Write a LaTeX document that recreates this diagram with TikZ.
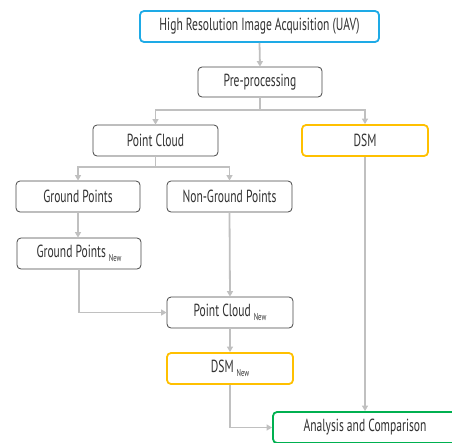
\documentclass[tikz,border=0pt]{standalone}
\usepackage{fontspec}
\setmainfont[FakeStretch=0.66]{PT Sans}
\usetikzlibrary{arrows.meta}
\definecolor{cblue}{RGB}{30,170,230}
\definecolor{corange}{RGB}{255,192,0}
\definecolor{cgreen}{RGB}{0,176,80}
\definecolor{cline}{RGB}{192,192,192}
\definecolor{cbox}{RGB}{70,70,70}
\definecolor{ctext}{RGB}{50,50,50}
\newcommand{\nw}{\,\raisebox{-0.45ex}{\fontsize{10}{10}\selectfont New}}
\tikzset{
  box/.style={draw=cbox, line width=0.8pt, rounded corners=4pt, fill=white, inner sep=0pt, font=\fontsize{17.5}{19}\selectfont, text=ctext},
  conn/.style={draw=cline, line width=1.8pt, -{Triangle[length=5.5pt,width=6pt]}},
  plain/.style={draw=cline, line width=1.8pt}
}
\begin{document}
\begin{tikzpicture}[x=1pt,y=-1pt]
\useasboundingbox (0,0) rectangle (452,442);
\begin{scope}
\clip (0,0) rectangle (452,442);
\node[box, draw=cblue, line width=1.8pt, minimum width=239pt, minimum height=31pt] (uav) at (259.5,26.5) {High Resolution Image Acquisition (UAV)};
\node[box, minimum width=124pt, minimum height=30pt] (pre) at (260,82) {Pre-processing};
\node[box, minimum width=125pt, minimum height=31pt] (pc) at (155.5,140.5) {Point Cloud};
\node[box, draw=corange, line width=1.8pt, minimum width=126pt, minimum height=31pt] (dsm) at (365,140.5) {DSM};
\node[box, minimum width=124pt, minimum height=31pt] (gp) at (78,196.5) {Ground Points};
\node[box, minimum width=125pt, minimum height=31pt] (ngp) at (229.5,196.5) {Non-Ground Points};
\node[box, minimum width=124pt, minimum height=31pt] (gpn) at (79,253.5) {Ground Points\nw};
\node[box, minimum width=126pt, minimum height=31pt] (pcn) at (230,312.5) {Point Cloud\nw};
\node[box, draw=corange, line width=1.8pt, minimum width=126pt, minimum height=31pt] (dsmn) at (230,368.5) {DSM\nw};
\node[box, draw=cgreen, line width=1.8pt, minimum width=184pt, minimum height=31pt] (ana) at (365,427.5) {Analysis and Comparison};
\coordinate (s1) at (260,110);
\coordinate (s2) at (155.5,167);
\draw[conn] (uav.south) -- (pre.north);
\draw[plain] (pre.south) -- (s1);
\draw[conn] (s1) -| (pc.north);
\draw[conn] (s1) -| (dsm.north);
\draw[plain] (pc.south) -- (s2);
\draw[conn] (s2) -| (gp.north);
\draw[conn] (s2) -| (ngp.north);
\draw[conn] (gp.south) -- (gp.south |- gpn.north);
\draw[conn] (gpn.south) |- (pcn.west);
\draw[conn] (ngp.south) -- (pcn.north);
\draw[conn] (pcn.south) -- (dsmn.north);
\draw[conn] (dsmn.south) |- (ana.west);
\draw[conn] (dsm.south) -- (ana.north);
\end{scope}
\end{tikzpicture}
\end{document}
